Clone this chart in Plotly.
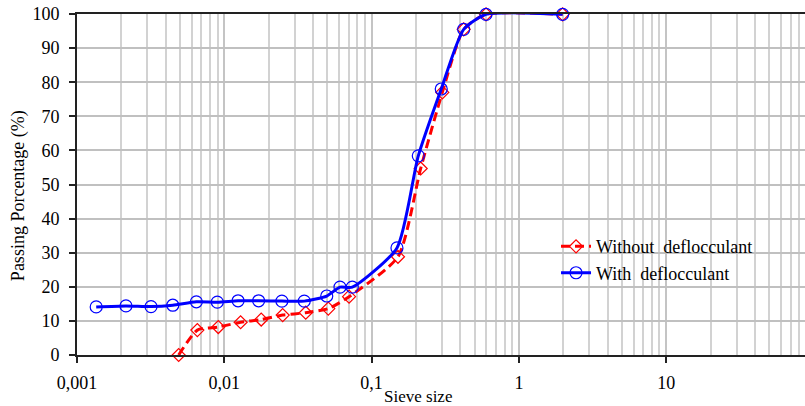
import plotly.graph_objects as go

# Sieve sizes (mm) and passing percentage
size_without = [0.0049, 0.00656, 0.0091, 0.0129, 0.0178, 0.0249, 0.0357, 0.0508, 0.0703,
                0.151, 0.2153, 0.302, 0.4216, 0.598, 1.98]
pass_without = [0.0, 7.3, 8.2, 9.6, 10.4, 11.7, 12.4, 13.6, 17.1,
                28.8, 54.7, 77.0, 95.5, 99.9, 99.9]

size_with = [0.00135, 0.00215, 0.00318, 0.00447, 0.00646, 0.00896, 0.0124, 0.0171, 0.0246,
             0.0349, 0.0496, 0.061, 0.0739, 0.1486, 0.2074, 0.297, 0.4216, 0.598, 1.98]
pass_with = [14.1, 14.4, 14.2, 14.6, 15.6, 15.5, 15.9, 15.9, 15.8,
             15.8, 17.3, 19.9, 19.9, 31.4, 58.4, 78.0, 95.5, 99.9, 99.9]

x_tickvals = [0.001, 0.01, 0.1, 1, 10]
x_ticktext = ["0,001", "0,01", "0,1", "1", "10"]
y_tickvals = [0, 10, 20, 30, 40, 50, 60, 70, 80, 90, 100]

FONT = "Liberation Serif"

fig = go.Figure()
fig.add_trace(go.Scatter(
    x=size_without, y=pass_without, name="Without  deflocculant",
    mode="lines+markers", legendgroup="a",
    line=dict(color="#ff0000", width=3, dash="9px,5px", shape="spline", smoothing=0.6),
    marker=dict(symbol="diamond-open", size=10, color="#ff0000", line=dict(width=1.2)),
    cliponaxis=False,
))
fig.add_trace(go.Scatter(
    x=size_with, y=pass_with, name="With  deflocculant",
    mode="lines+markers", legendgroup="b",
    line=dict(color="#0000ff", width=3, shape="spline", smoothing=0.6),
    marker=dict(symbol="circle-open", size=12, color="#0000ff", line=dict(width=1.2)),
    cliponaxis=False,
))

fig.update_layout(
    width=805, height=406,
    margin=dict(l=77, r=0, t=14, b=51),
    paper_bgcolor="white", plot_bgcolor="white",
    font=dict(family=FONT, size=18, color="#000000"),
    showlegend=True,
    legend=dict(x=0.658, y=0.372, xanchor="left", yanchor="top",
                bgcolor="rgba(0,0,0,0)", borderwidth=0,
                font=dict(family=FONT, size=18),
                tracegroupgap=0, traceorder="grouped"),
    xaxis=dict(
        type="log", range=[-3, 1.942],
        tickmode="array", tickvals=x_tickvals, ticktext=x_ticktext,
        ticks="outside", ticklen=6, tickwidth=1.5, tickcolor="#222222",
        ticklabelstandoff=4,
        showline=True, linecolor="#222222", linewidth=2, mirror=True,
        showgrid=True, gridcolor="#c4c4c4", gridwidth=1.5,
        minor=dict(dtick="D1", showgrid=True, gridcolor="#d2d2d2", gridwidth=1.5, ticks=""),
        zeroline=False,
        tickfont=dict(family=FONT, size=18),
    ),
    yaxis=dict(
        range=[0, 100], tickmode="array", tickvals=y_tickvals,
        ticks="outside", ticklen=6, tickwidth=1.5, tickcolor="#222222",
        ticklabelstandoff=6,
        showline=True, linecolor="#222222", linewidth=2, mirror=False,
        showgrid=True, gridcolor="#c0c0c0", gridwidth=2,
        zeroline=False,
        tickfont=dict(family=FONT, size=18),
    ),
    annotations=[
        dict(text="Passing Porcentage (%)", xref="paper", yref="paper",
             x=-0.081, y=0.466, xanchor="center", yanchor="middle",
             textangle=-90, showarrow=False, font=dict(family=FONT, size=18)),
        dict(text="Sieve size", xref="paper", yref="paper",
             x=0.468, y=-0.123, xanchor="center", yanchor="middle",
             showarrow=False, font=dict(family=FONT, size=17)),
    ],
)

fig.write_html("out.html")
